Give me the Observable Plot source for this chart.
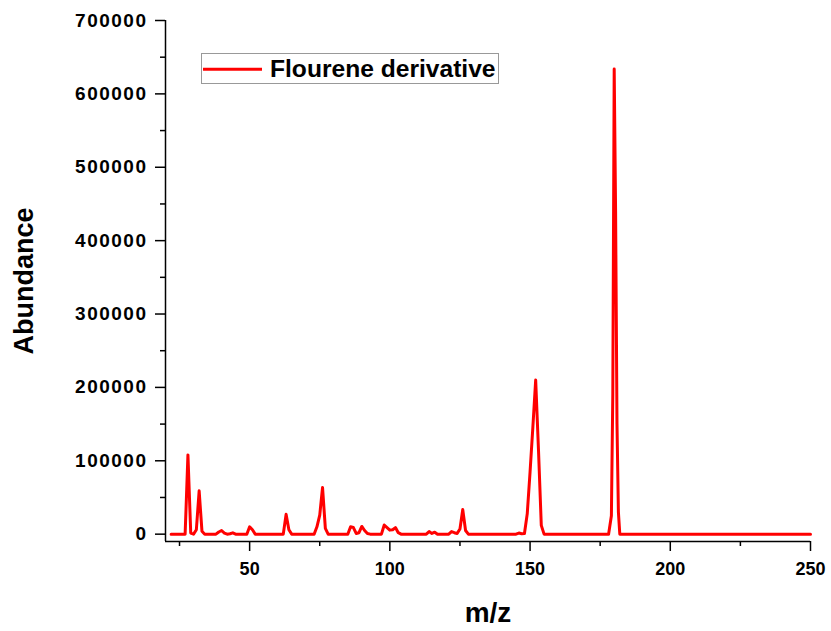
<!DOCTYPE html>
<html><head><meta charset="utf-8">
<script src="https://cdn.jsdelivr.net/npm/d3@7"></script>
<script src="https://cdn.jsdelivr.net/npm/@observablehq/plot@0.6"></script>
<style>
body{margin:0;background:#fff;}
#wrap{position:relative;width:831px;height:631px;overflow:hidden;}
#legend{position:absolute;left:200px;top:52px;}
</style></head><body><div id="wrap"></div>
<script>
const mz = [22,27,28,29,30,31,32,33,34,38,39,40,41,42,43,44,45,49,50,51,52,62,63,64,65,73,74,75,76,77,78,85,86,87,88,89,90,91,92,93,97,98,99,100,101,102,103,104,113,114,115,116,117,121,122,123,124,125,126,127,128,145,146,147,148,149,150,151,152,153,154,155,178,179,179.5,180,180.5,181,181.5,182,250];
const abundance = [0,0,108000,1500,0,6000,59000,4000,0,0,3000,5000,1500,0,500,1800,0,0,10000,6000,0,0,27000,6000,0,0,10000,26000,63500,8000,0,0,10000,9000,1000,2000,10500,5000,1000,0,0,12500,9000,5500,6000,9000,2000,0,0,3500,1000,2700,0,0,3500,2000,1000,7000,33500,5000,0,0,1500,500,1000,28000,85000,146000,210000,115000,12000,0,0,25000,190000,634000,440000,150000,30000,0,0];
const yMajor = [0,100000,200000,300000,400000,500000,600000,700000];
const yMinor = [50000,150000,250000,350000,450000,550000,650000];
const xMajor = [50,100,150,200,250];
const xMinor = [25,75,125,175,225];
const seriesName = "Flourene derivative";
const xTitle = "m/z";
const yTitle = "Abundance";

const data = mz.map((m,i)=>({mz:m, ab:abundance[i]}));
const font = "'Liberation Sans', Arial, sans-serif";

const plot = Plot.plot({
  width:831, height:631, marginLeft:165, marginRight:21, marginTop:20, marginBottom:90,
  style:{fontFamily:font, fontWeight:"bold", color:"#000", background:"#fff"},
  x:{domain:[20,250], label:null},
  y:{domain:[-10000,700000], label:null},
  marks:[
    Plot.axisY(yMinor,{tickSize:5, tickFormat:()=>"", strokeWidth:1.5, label:null}),
    Plot.axisY(yMajor,{tickSize:10, tickPadding:8, fontSize:19, tickFormat:d=>String(d), strokeWidth:1.5, label:null}),
    Plot.axisX(xMinor,{tickSize:5, tickFormat:()=>"", strokeWidth:1.5, label:null}),
    Plot.axisX(xMajor,{tickSize:10, tickPadding:11, fontSize:18, tickFormat:d=>String(d), strokeWidth:1.5, label:null}),
    Plot.ruleX([20],{strokeWidth:1.5}),
    Plot.ruleY([-10000],{strokeWidth:1.5}),
    Plot.line(data,{x:"mz", y:"ab", stroke:"#ff0000", strokeWidth:3, strokeLinejoin:"round"}),
    Plot.text([yTitle],{frameAnchor:"left", dx:-141, rotate:-90, textAnchor:"middle", fontSize:27, fontWeight:"bold", lineAnchor:"middle"}),
    Plot.text([xTitle],{frameAnchor:"bottom", dy:72, fontSize:28, fontWeight:"bold", lineAnchor:"middle"})
  ]
});
d3.select(plot).selectAll('[aria-label="y-axis tick label"] text').style("letter-spacing","1.5px");
document.getElementById("wrap").appendChild(plot);

// legend
const lg = d3.select("#wrap").append("svg").attr("id","legend").attr("width",302).attr("height",34);
lg.append("rect").attr("x",1.5).attr("y",1.5).attr("width",297).attr("height",30).attr("fill","#fff").attr("stroke","#999").attr("stroke-width",1);
lg.append("line").attr("x1",3).attr("x2",62).attr("y1",17.3).attr("y2",17.3).attr("stroke","#ff0000").attr("stroke-width",3);
lg.append("text").attr("x",70).attr("y",24.7).attr("font-family",font).attr("font-weight","bold").attr("font-size",24.6).attr("fill","#000").text(seriesName);
</script></body></html>
